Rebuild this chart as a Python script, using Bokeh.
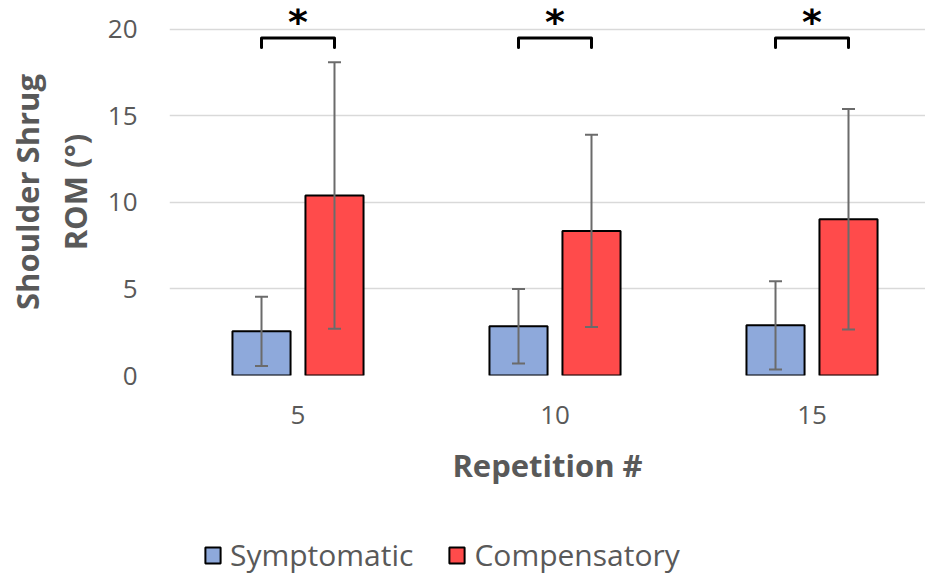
from bokeh.plotting import figure
from bokeh.layouts import column
from bokeh.models import (ColumnDataSource, Range1d, FixedTicker, LinearAxis,
                          Whisker, TeeHead, Legend, LegendItem)
from bokeh.core.properties import value
from bokeh.embed import file_html
from bokeh.resources import INLINE

# ---- data ----
categories = ["5", "10", "15"]
symptomatic_mean = [2.55, 2.85, 2.9]
symptomatic_sd = [2.0, 2.15, 2.55]
compensatory_mean = [10.4, 8.35, 9.03]
compensatory_sd = [7.7, 5.55, 6.37]
significance = ["*", "*", "*"]
y_ticks = [0, 5, 10, 15, 20]
series_names = ["Symptomatic", "Compensatory"]

# ---- styling / layout constants ----
TXT = "#595959"
BLUE = "#8EA9DB"
RED = "#FF4B4B"
ERR = "#6B6B6B"
OFF = 0.142
BW = 0.226
FONT = "Open Sans"

idx = list(range(len(categories)))
xs_s = [i - OFF for i in idx]
xs_c = [i + OFF for i in idx]

src_s = ColumnDataSource(dict(x=xs_s, top=symptomatic_mean,
                              upper=[m + s for m, s in zip(symptomatic_mean, symptomatic_sd)],
                              lower=[m - s for m, s in zip(symptomatic_mean, symptomatic_sd)]))
src_c = ColumnDataSource(dict(x=xs_c, top=compensatory_mean,
                              upper=[m + s for m, s in zip(compensatory_mean, compensatory_sd)],
                              lower=[m - s for m, s in zip(compensatory_mean, compensatory_sd)]))

p = figure(frame_width=756, frame_height=367,
           min_border_left=169, min_border_right=0, min_border_top=8, min_border_bottom=120,
           x_range=Range1d(-0.5, 2.4416), y_range=Range1d(0, 21.2),
           toolbar_location=None, output_backend="svg", background_fill_color="white",
           border_fill_color="white")
p.outline_line_color = None

# grid
p.xgrid.visible = False
p.ygrid.grid_line_color = "#D9D9D9"
p.ygrid.grid_line_width = 1.5

# bars
r_s = p.vbar(x="x", top="top", width=BW, source=src_s, fill_color=BLUE,
             line_color="black", line_width=2)
r_c = p.vbar(x="x", top="top", width=BW, source=src_c, fill_color=RED,
             line_color="black", line_width=2)

for src in (src_s, src_c):
    w = Whisker(base="x", upper="upper", lower="lower", source=src, level="annotation",
                line_color=ERR, line_width=2,
                upper_head=TeeHead(size=13, line_color=ERR, line_width=2),
                lower_head=TeeHead(size=13, line_color=ERR, line_width=2))
    p.add_layout(w)

# significance brackets
Y_TOP = 19.5
Y_LEG = 18.95
bx = [[xs_s[i], xs_s[i], xs_c[i], xs_c[i]] for i in idx]
by = [[Y_LEG, Y_TOP, Y_TOP, Y_LEG] for _ in idx]
p.multi_line(bx, by, line_color="black", line_width=3, line_join="round", line_cap="round")
p.text(x=idx, y=[20.4] * len(idx), text=significance, text_align="center",
       text_baseline="alphabetic", text_font=value("DejaVu Sans"), text_font_style="bold",
       text_font_size="38px", text_color="black")

# x axis
xa = p.xaxis[0]
xa.ticker = FixedTicker(ticks=idx)
xa.major_label_overrides = {i: c for i, c in zip(idx, categories)}
xa.axis_line_color = None
xa.major_tick_line_color = None
xa.minor_tick_line_color = None
xa.major_label_standoff = 24
xa.major_label_text_font = FONT
xa.major_label_text_font_size = "26px"
xa.major_label_text_color = TXT
xa.axis_label = "Repetition #"
xa.axis_label_standoff = 17
xa.axis_label_text_font = FONT
xa.axis_label_text_font_style = "bold"
xa.axis_label_text_font_size = "31px"
xa.axis_label_text_color = TXT

# y axis
ya = p.yaxis[0]
ya.ticker = FixedTicker(ticks=y_ticks)
ya.axis_line_color = None
ya.major_tick_line_color = None
ya.minor_tick_line_color = None
ya.major_label_standoff = 26
ya.major_label_text_font = FONT
ya.major_label_text_font_size = "26px"
ya.major_label_text_color = TXT
ya.axis_label = "ROM (°)"
ya.axis_label_standoff = 9
ya.axis_label_text_font = FONT
ya.axis_label_text_font_style = "bold"
ya.axis_label_text_font_size = "31px"
ya.axis_label_text_color = TXT

ya2 = LinearAxis(ticker=FixedTicker(ticks=[]), axis_line_color=None,
                 major_tick_line_color=None, minor_tick_line_color=None,
                 major_label_text_font_size="0px", major_label_standoff=0,
                 axis_label="Shoulder Shrug", axis_label_standoff=3,
                 axis_label_text_font=FONT, axis_label_text_font_style="bold",
                 axis_label_text_font_size="31px", axis_label_text_color=TXT)
p.add_layout(ya2, "left")

# legend (separate strip below the chart); its renderers are hidden, only the key shows
pl = figure(frame_width=925, frame_height=84, min_border=0,
            x_range=Range1d(10, 11), y_range=Range1d(-2, -1),
            x_axis_location=None, y_axis_location=None,
            toolbar_location=None, output_backend="svg",
            background_fill_color="white", border_fill_color="white")
pl.outline_line_color = None
pl.grid.visible = False
d_s = pl.vbar(x="x", top="top", width=BW, source=src_s, fill_color=BLUE,
              line_color="black", line_width=2, visible=False)
d_c = pl.vbar(x="x", top="top", width=BW, source=src_c, fill_color=RED,
              line_color="black", line_width=2, visible=False)
legend = Legend(items=[LegendItem(label=series_names[0], renderers=[d_s]),
                       LegendItem(label=series_names[1], renderers=[d_c])],
                location=(203, 4), orientation="horizontal",
                glyph_width=19, glyph_height=20, label_standoff=8, spacing=34,
                padding=0, margin=0, border_line_color=None, background_fill_alpha=0,
                inactive_fill_alpha=0,
                label_text_font=FONT, label_text_font_size="30px", label_text_color=TXT)
pl.add_layout(legend)

open("out.html", "w").write(file_html(column(p, pl), INLINE))
